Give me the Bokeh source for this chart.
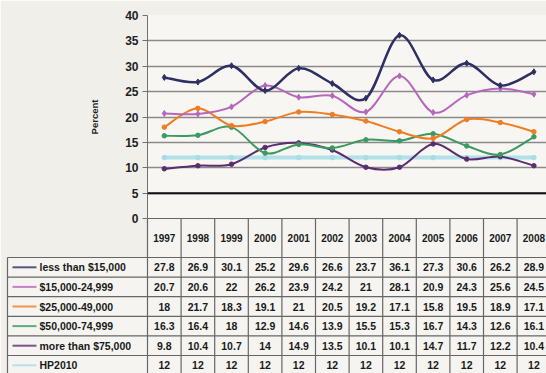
from bokeh.plotting import figure
from bokeh.models import Range1d, FixedTicker, Span, ColumnDataSource
from bokeh.embed import file_html
from bokeh.resources import INLINE
from bokeh.core.properties import value

years = ["1997", "1998", "1999", "2000", "2001", "2002", "2003", "2004", "2005", "2006", "2007", "2008"]
series_names = ["less than $15,000", "$15,000-24,999", "$25,000-49,000",
                "$50,000-74,999", "more than $75,000", "HP2010"]
less_15k = [27.8, 26.9, 30.1, 25.2, 29.6, 26.6, 23.7, 36.1, 27.3, 30.6, 26.2, 28.9]
k15_25 = [20.7, 20.6, 22, 26.2, 23.9, 24.2, 21, 28.1, 20.9, 24.3, 25.6, 24.5]
k25_49 = [18, 21.7, 18.3, 19.1, 21, 20.5, 19.2, 17.1, 15.8, 19.5, 18.9, 17.1]
k50_75 = [16.3, 16.4, 18, 12.9, 14.6, 13.9, 15.5, 15.3, 16.7, 14.3, 12.6, 16.1]
more_75k = [9.8, 10.4, 10.7, 14, 14.9, 13.5, 10.1, 10.1, 14.7, 11.7, 12.2, 10.4]
hp2010 = [12, 12, 12, 12, 12, 12, 12, 12, 12, 12, 12, 12]
y_ticks = [0, 5, 10, 15, 20, 25, 30, 35, 40]

all_series = [less_15k, k15_25, k25_49, k50_75, more_75k, hp2010]
colors = ["#2e2f63", "#b866bc", "#ef7d22", "#3c9a5f", "#5b2d6e", "#a6dde6"]
widths = [2.5, 2, 2, 2, 2, 4]

FONT = value("Liberation Sans")
BG = "#f0efea"
n = len(years)
xs = list(range(n))

W, H = 546, 373
LEFT, TOP, TABLE_H = 147, 15, 155
FRAME_W = W - LEFT
FRAME_H = H - TOP - TABLE_H
X0, X1 = -0.5, 11.375
Y0, Y1 = 0, 40
px_x = (X1 - X0) / FRAME_W       # data units per pixel (x)
px_y = (Y1 - Y0) / FRAME_H       # data units per pixel (y)

p = figure(width=W, height=H, x_range=Range1d(X0, X1), y_range=Range1d(Y0, Y1),
           output_backend="svg", toolbar_location=None,
           min_border_left=LEFT, min_border_right=0, min_border_top=TOP, min_border_bottom=TABLE_H)
p.xaxis.visible = False
p.xgrid.visible = False
p.outline_line_color = None
p.background_fill_color = "#f7f6f3"
p.border_fill_color = BG
p.yaxis.ticker = FixedTicker(ticks=y_ticks)
p.ygrid.ticker = FixedTicker(ticks=y_ticks)
p.ygrid.grid_line_color = "#8a8a8a"
p.ygrid.grid_line_width = 1.5
p.yaxis.major_label_text_font = "Liberation Sans"
p.yaxis.major_label_text_font_style = "bold"
p.yaxis.major_label_text_font_size = "12px"
p.yaxis.major_label_text_color = "#1e1e1e"
p.yaxis.major_label_standoff = 4
p.yaxis.major_tick_out = 5
p.yaxis.major_tick_in = 0
p.yaxis.minor_tick_line_color = None
p.yaxis.axis_line_color = "#707070"
p.yaxis.major_tick_line_color = "#707070"
p.yaxis.axis_label = "Percent"
p.yaxis.axis_label_text_font = "Liberation Sans"
p.yaxis.axis_label_text_font_style = "bold"
p.yaxis.axis_label_text_font_size = "9.5px"
p.yaxis.axis_label_text_color = "#1e1e1e"
p.yaxis.axis_label_standoff = 22
p.add_layout(Span(location=5, dimension="width", line_color="#111111", line_width=2))


def bezier_source(vals):
    x0, y0, x1, y1, cx0, cy0, cx1, cy1 = [], [], [], [], [], [], [], []
    m = len(vals)
    for i in range(m - 1):
        p0 = (xs[max(i - 1, 0)], vals[max(i - 1, 0)])
        p1 = (xs[i], vals[i])
        p2 = (xs[i + 1], vals[i + 1])
        p3 = (xs[min(i + 2, m - 1)], vals[min(i + 2, m - 1)])
        x0.append(p1[0]); y0.append(p1[1]); x1.append(p2[0]); y1.append(p2[1])
        cx0.append(p1[0] + (p2[0] - p0[0]) / 6); cy0.append(p1[1] + (p2[1] - p0[1]) / 6)
        cx1.append(p2[0] - (p3[0] - p1[0]) / 6); cy1.append(p2[1] - (p3[1] - p1[1]) / 6)
    return ColumnDataSource(dict(x0=x0, y0=y0, x1=x1, y1=y1, cx0=cx0, cy0=cy0, cx1=cx1, cy1=cy1))


for idx in reversed(range(len(all_series))):
    vals = all_series[idx]
    src = bezier_source(vals)
    alpha = 0.85 if idx == 5 else 1.0
    p.bezier(x0="x0", y0="y0", x1="x1", y1="y1", cx0="cx0", cy0="cy0", cx1="cx1", cy1="cy1",
             source=src, line_color=colors[idx], line_width=widths[idx], line_alpha=alpha)
    p.scatter(xs, vals, marker="diamond" if idx in (0, 1) else "circle",
              size=6 if idx in (0, 1) else 4.5, color=colors[idx])

# ---- data table, drawn below the frame (overlay level, not clipped) ----
HEAD = 39.0
ROW = 19.6


def ty(py):
    # pixel offset below the chart frame -> data y
    return Y0 - py * px_y


def tx(px):
    # absolute pixel x in the figure -> data x
    return X0 + (px - LEFT) * px_x


nrows = len(series_names)
x_left = tx(7)
x_right = X1
bottom_px = TABLE_H + 2

t_kw = dict(level="overlay")
GRID = "#666666"

p.quad(left=X0, right=x_right, top=ty(0), bottom=ty(bottom_px), fill_color="#f5f4f0",
       line_color=None, **t_kw)
p.quad(left=x_left, right=X0, top=ty(HEAD), bottom=ty(bottom_px), fill_color="#f5f4f0",
       line_color=None, **t_kw)

hx0, hx1, hy = [X0], [x_right], [ty(0)]
for i in range(nrows + 1):
    hx0.append(x_left); hx1.append(x_right); hy.append(ty(HEAD + ROW * i))
p.segment(x0=hx0, y0=hy, x1=hx1, y1=hy, line_color=GRID, line_width=1.2, **t_kw)
vx = [k - 0.5 for k in range(n + 1)]
p.segment(x0=vx, y0=[ty(0)] * len(vx), x1=vx, y1=[ty(bottom_px)] * len(vx),
          line_color=GRID, line_width=1.2, **t_kw)
p.segment(x0=[x_left], y0=[ty(HEAD)], x1=[x_left], y1=[ty(bottom_px)],
          line_color=GRID, line_width=1.2, **t_kw)

p.text(x=xs, y=[ty(HEAD / 2)] * n, text=years, text_align="center", text_baseline="middle",
       text_font=FONT, text_font_style="bold", text_font_size="10px", text_color="#1a1a1a", **t_kw)

vx_, vy_, vt_ = [], [], []
for i, vals in enumerate(all_series):
    for k, v in enumerate(vals):
        vx_.append(k); vy_.append(ty(HEAD + ROW * (i + 0.5))); vt_.append(f"{v:g}")
p.text(x=vx_, y=vy_, text=vt_, text_align="center", text_baseline="middle",
       text_font=FONT, text_font_style="bold", text_font_size="10.5px", text_color="#1a1a1a", **t_kw)

row_y = [ty(HEAD + ROW * (i + 0.5)) for i in range(nrows)]
kx0, kx1 = tx(12), tx(36)
kxm = (kx0 + kx1) / 2
p.segment(x0=[kx0] * nrows, y0=row_y, x1=[kx1] * nrows, y1=row_y, line_color=colors,
          line_width=2, line_alpha=0.8, **t_kw)
p.scatter(x=[kxm] * nrows, y=row_y, color=colors, size=4, alpha=0.9, **t_kw)
p.text(x=[tx(39)] * nrows, y=row_y, text=series_names, text_align="left",
       text_baseline="middle", text_font=FONT, text_font_style="bold", text_font_size="10.5px",
       text_color="#1a1a1a", **t_kw)

open("out.html", "w").write(file_html(p, INLINE))
